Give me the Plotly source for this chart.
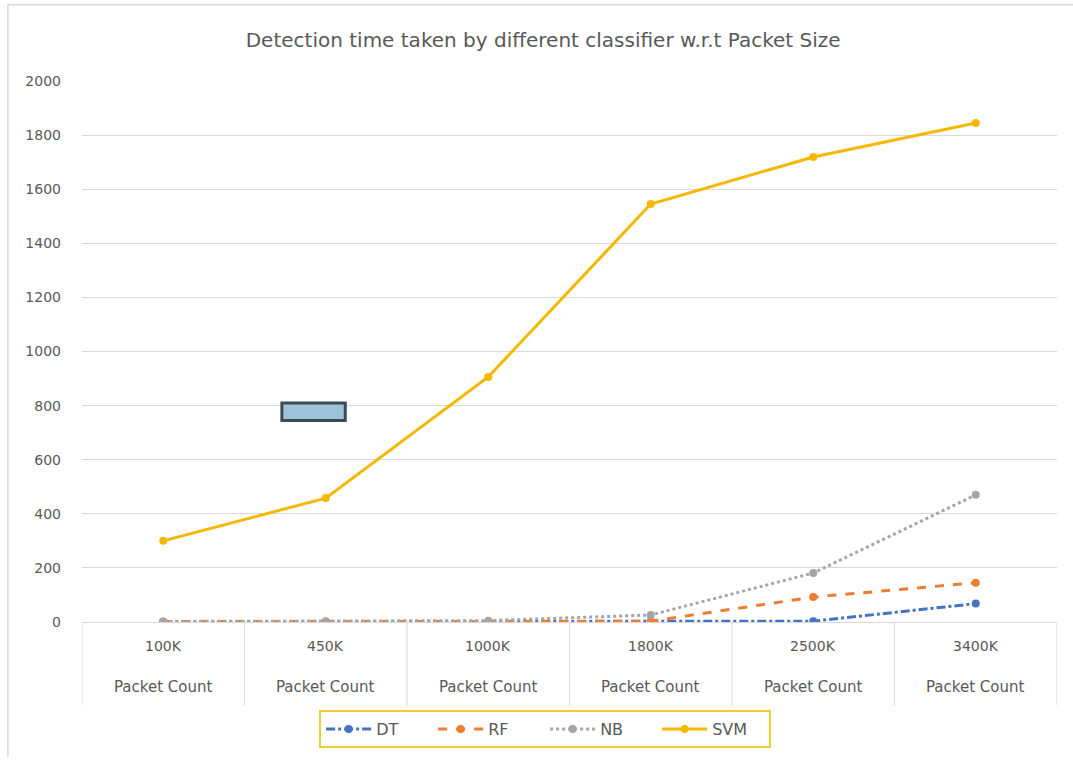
import plotly.graph_objects as go

# Packet-size categories and detection times per classifier
categories = ["100K", "450K", "1000K", "1800K", "2500K", "3400K"]
sub_label = "Packet Count"
dt = [1, 1, 1, 1, 3, 68]
rf = [1, 1, 2, 3, 92, 145]
nb = [2, 3, 5, 26, 181, 470]
svm = [300, 458, 906, 1545, 1719, 1845]

y_ticks = list(range(0, 2001, 200))

idx = list(range(len(categories)))
FONT = "DejaVu Sans"
GREY = "#595959"

fig = go.Figure()

series = [
    ("DT", dt, "#4472C4", "dashdot"),
    ("RF", rf, "#ED7D31", "dash"),
    ("NB", nb, "#A5A5A5", "dot"),
    ("SVM", svm, "#F5B800", "solid"),
]
for name, vals, color, dash in series:
    fig.add_trace(go.Scatter(
        x=idx, y=vals, name=name, mode="lines+markers",
        line=dict(color=color, width=3, dash=dash),
        marker=dict(color=color, size=8, symbol="circle"),
    ))

# Category labels on two rows below the axis
annotations = []
for i, c in enumerate(categories):
    annotations.append(dict(x=i, y=-0.045, xref="x", yref="paper", text=c,
                            showarrow=False, yanchor="middle",
                            font=dict(family=FONT, size=14, color=GREY)))
    annotations.append(dict(x=i, y=-0.12, xref="x", yref="paper", text=sub_label,
                            showarrow=False, yanchor="middle",
                            font=dict(family=FONT, size=15, color=GREY)))

# Divider lines between category cells
shapes = []
for b in [i - 0.5 for i in range(len(categories) + 1)]:
    shapes.append(dict(type="line", xref="x", yref="paper", x0=b, x1=b,
                       y0=0, y1=-0.155, line=dict(color="#D9D9D9", width=1)))

# Small boxed marker in the plot area
shapes.append(dict(type="rect", xref="x", yref="y", x0=0.73, x1=1.12, y0=745, y1=810,
                   fillcolor="#9DC3D9", line=dict(color="#3B4A55", width=3)))

# Outer chart frame
shapes.append(dict(type="line", xref="paper", yref="paper", x0=-0.076, x1=-0.076,
                   y0=1.141, y1=-0.25, line=dict(color="#D9D9D9", width=1.5)))
shapes.append(dict(type="line", xref="paper", yref="paper", x0=-0.076, x1=1.02,
                   y0=1.141, y1=1.141, line=dict(color="#D9D9D9", width=1.5)))

fig.update_layout(
    width=1073, height=761,
    margin=dict(l=82, r=16, t=81, b=139),
    paper_bgcolor="white", plot_bgcolor="white",
    font=dict(family=FONT, color=GREY),
    title=dict(text="Detection time taken by different classifier w.r.t Packet Size",
               x=0.473, xanchor="center", xref="paper", y=0.947, yanchor="middle",
               font=dict(family=FONT, size=20, color=GREY)),
    xaxis=dict(range=[-0.5, len(categories) - 0.5], showticklabels=False,
               showgrid=False, zeroline=False, showline=False, fixedrange=True),
    yaxis=dict(range=[0, 2000], tickvals=y_ticks, showgrid=True, gridcolor="#D9D9D9",
               gridwidth=1, zeroline=True, zerolinecolor="#D9D9D9", zerolinewidth=1,
               showline=False, ticklabelstandoff=20,
               tickfont=dict(family=FONT, size=14, color=GREY)),
    legend=dict(orientation="h", x=0.475, xanchor="center", y=-0.163, yanchor="top",
                bordercolor="#F2CC30", borderwidth=2, bgcolor="white",
                font=dict(family=FONT, size=16, color=GREY), itemwidth=45,
                entrywidth=52),
    annotations=annotations,
    shapes=shapes,
    showlegend=True,
)

fig.write_html("out.html")
